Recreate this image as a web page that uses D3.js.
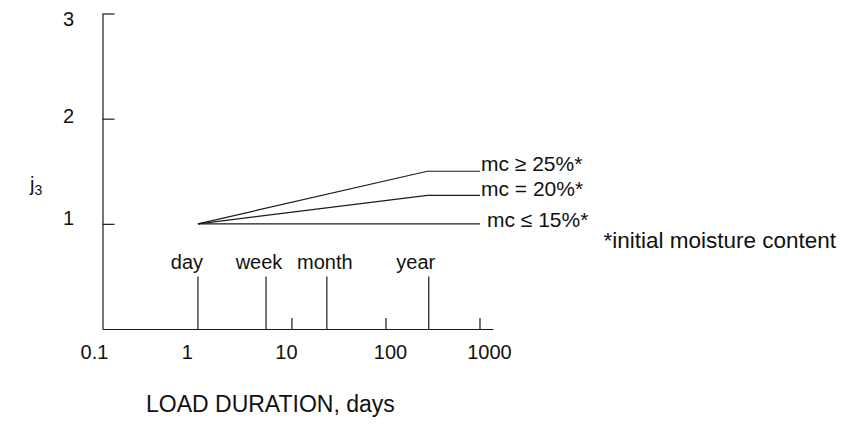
<!DOCTYPE html>
<html>
<head>
<meta charset="utf-8">
<script src="https://cdn.jsdelivr.net/npm/d3@7"></script>
<style>
  html, body { margin: 0; padding: 0; background: #fff; }
  svg { display: block; font-family: "Liberation Sans", Arial, sans-serif; }
  text { fill: #111; }
</style>
</head>
<body>
<svg id="chart" width="841" height="446"></svg>
<script>
// Load duration (days) on a log axis
const xTickValues = [0.1, 1, 10, 100, 1000];
const xTickLabels = ["0.1", "1", "10", "100", "1000"];
const xMinorTicks = [10, 100, 1000];
const xExtent = [0.0966, 1375];

// Reference durations marked along the axis
const eventNames = ["day", "week", "month", "year"];
const eventDays = [1, 5.3, 23.5, 285];
const eventHeight = 0.5;

// j3 factor axis
const yTickValues = [1, 2, 3];
const yExtent = [0, 3];

// Factor curves by initial moisture content
const seriesNames = ["mc \u2265 25%*", "mc = 20%*", "mc \u2264 15%*"];
const curveDays = [1, 275, 1000];
const mc25 = [1, 1.5, 1.5];
const mc20 = [1, 1.27, 1.27];
const mc15 = [1, 1, 1];
const seriesValues = [mc25, mc20, mc15];

const footnote = "*initial moisture content";
const xTitle = "LOAD DURATION, days";

const svg = d3.select("#chart");
const ink = "#1a1a1a";
const font = "Liberation Sans, Arial, sans-serif";

const x = d3.scaleLog().domain(xExtent).range([102.5, 493]);
const y = d3.scaleLinear().domain(yExtent).range([329, 13.5]);

// y axis: ticks point inward, labels to the left
const yAxis = d3.axisLeft(y)
  .tickValues(yTickValues)
  .tickFormat(d3.format("d"))
  .tickSizeInner(-12)
  .tickSizeOuter(0)
  .tickPadding(28);
const gy = svg.append("g")
  .attr("transform", `translate(${x(xExtent[0])},0)`)
  .call(yAxis);
gy.select(".domain").attr("stroke", ink).attr("stroke-width", 1.2);
gy.selectAll(".tick line").attr("stroke", ink).attr("stroke-width", 1.2);
const yLabelShift = [-6, -3, 6];
gy.selectAll(".tick text")
  .attr("fill", "#111")
  .style("font-family", font)
  .style("font-size", "20px")
  .attr("text-anchor", "middle")
  .attr("dx", "-0.3em")
  .attr("y", (d, i) => yLabelShift[i]);

// x axis: baseline and labels
const xLabelShift = [-10, -11, -6, 4, 9];
const xAxis = d3.axisBottom(x)
  .tickValues(xTickValues)
  .tickFormat((d, i) => xTickLabels[i])
  .tickSizeInner(0)
  .tickSizeOuter(0)
  .tickPadding(16);
const gx = svg.append("g")
  .attr("transform", `translate(0,${y(0)})`)
  .call(xAxis);
gx.select(".domain").attr("stroke", ink).attr("stroke-width", 1.2);
gx.selectAll(".tick text")
  .attr("fill", "#111")
  .style("font-family", font)
  .style("font-size", "20px")
  .attr("dx", (d, i) => xLabelShift[i]);

// short upward decade ticks
svg.append("g").selectAll("line")
  .data(xMinorTicks)
  .join("line")
  .attr("x1", d => x(d)).attr("x2", d => x(d))
  .attr("y1", y(0)).attr("y2", y(0) - 11)
  .attr("stroke", ink).attr("stroke-width", 1.2);

// duration markers with their names
const eventShift = [-11, -7, -2, -13];
const ev = svg.append("g");
ev.selectAll("line")
  .data(eventDays)
  .join("line")
  .attr("x1", d => x(d)).attr("x2", d => x(d))
  .attr("y1", y(0)).attr("y2", y(eventHeight))
  .attr("stroke", ink).attr("stroke-width", 1.2);
ev.selectAll("text")
  .data(eventDays)
  .join("text")
  .attr("x", (d, i) => x(d) + eventShift[i])
  .attr("y", y(eventHeight) - 7)
  .attr("text-anchor", "middle")
  .style("font-size", "20px")
  .text((d, i) => eventNames[i]);

// factor curves
const line = d3.line()
  .x((d, i) => x(curveDays[i]))
  .y(d => y(d));
svg.append("g").selectAll("path")
  .data(seriesValues)
  .join("path")
  .attr("d", d => line(d))
  .attr("fill", "none")
  .attr("stroke", ink)
  .attr("stroke-width", 1.2);

// curve labels at the right end
const labelDx = [1, 1, 7];
const labelDy = [0, 1, 3];
svg.append("g").selectAll("text")
  .data(seriesValues)
  .join("text")
  .attr("x", (d, i) => x(curveDays[curveDays.length - 1]) + labelDx[i])
  .attr("y", (d, i) => y(d[d.length - 1]) + labelDy[i])
  .style("font-size", "21px")
  .text((d, i) => seriesNames[i]);

// footnote, right-aligned to the page edge
svg.append("text")
  .attr("x", 836)
  .attr("y", y(mc15[mc15.length - 1]) + 24)
  .attr("text-anchor", "end")
  .style("font-size", "22.5px")
  .text(footnote);

// axis titles
const yTitle = svg.append("text")
  .attr("x", 30)
  .attr("y", 191)
  .style("font-size", "20px");
yTitle.append("tspan").text("j");
yTitle.append("tspan").attr("dy", 4).style("font-size", "14px").text("3");

svg.append("text")
  .attr("x", 146)
  .attr("y", 412)
  .style("font-size", "23px")
  .text(xTitle);
</script>
</body>
</html>
